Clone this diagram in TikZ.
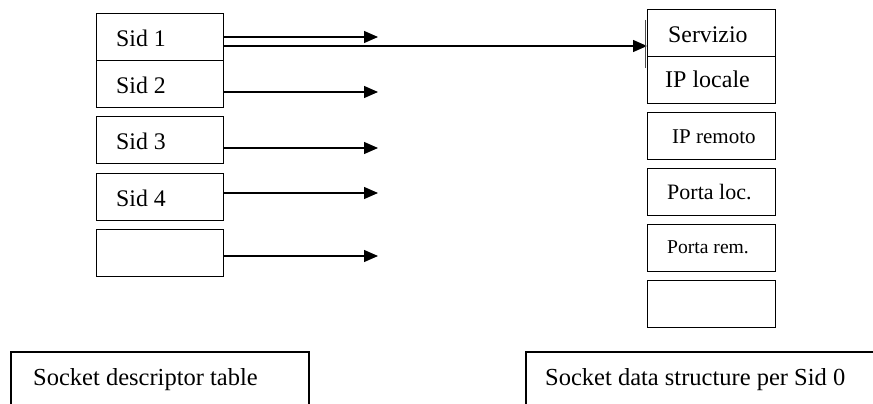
\documentclass[tikz,border=0pt]{standalone}
\usepackage{fontspec}
\setmainfont{Liberation Serif}
\usetikzlibrary{arrows.meta}
\begin{document}
\begin{tikzpicture}[x=1pt,y=-1pt,
  box/.style={draw=black,line width=1.4pt,rectangle,inner sep=0pt,anchor=north west},
  lbox/.style={box,minimum width=127pt,minimum height=47pt},
  rbox/.style={box,minimum width=128pt,minimum height=47pt},
  lab/.style={anchor=base west,inner sep=0pt,font=\fontsize{23.8}{28}\selectfont},
  arr/.style={line width=1.3pt,-{Triangle[length=14pt,width=12pt]}},
  open/.style={line width=1.4pt}]
\useasboundingbox (0,0) rectangle (873,404);
% left table
\node[lbox] (s1) at (96,13) {};
\node[lbox] (s2) at (96,60) {};
\node[lbox] (s3) at (96,116) {};
\node[lbox] (s4) at (96,173) {};
\node[lbox] (s5) at (96,229) {};
\node[lab] (s1t) at (116,47) {Sid 1};
\node[lab] (s2t) at (116,93) {Sid 2};
\node[lab] (s3t) at (116,149) {Sid 3};
\node[lab] (s4t) at (116,206) {Sid 4};
% right structure
\node[rbox] (r1) at (647,9) {};
\node[rbox] (r2) at (647,56) {};
\node[rbox] (r3) at (647,112) {};
\node[rbox] (r4) at (647,168) {};
\node[rbox] (r5) at (647,224) {};
\node[rbox] (r6) at (647,280) {};
\node[lab] (r1t) at (668,43) {Servizio};
\node[lab,font=\fontsize{24}{28}\selectfont] (r2t) at (665,88) {IP locale};
\node[lab,font=\fontsize{21}{25}\selectfont] (r3t) at (672,143) {IP remoto};
\node[lab,font=\fontsize{22}{26}\selectfont] (r4t) at (667,199) {Porta loc.};
\node[lab,font=\fontsize{19.6}{24}\selectfont] (r5t) at (667,253) {Porta rem.};
% arrow end points
\coordinate (e1) at (378,37);
\coordinate (e2) at (378,92);
\coordinate (e3) at (378,148);
\coordinate (e4) at (378,193);
\coordinate (e5) at (378,256);
\draw[arr] (s1.east |- e1) -- (e1);
\draw[arr] (s2.east |- e2) -- (e2);
\draw[arr] (s3.east |- e3) -- (e3);
\draw[arr] (s4.east |- e4) -- (e4);
\draw[arr] (s5.east |- e5) -- (e5);
\coordinate (m1) at (224,46);
\draw[arr] (m1) -- (r1.west |- m1);
% small extra edge left of Servizio
\coordinate (v1) at (645.5,20);
\coordinate (v2) at (645.5,68);
\draw[line width=0.8pt,black!70] (v1) -- (v2);
% bottom caption boxes (cut off at the bottom)
\coordinate (b1) at (11,404);
\coordinate (b2) at (11,352);
\coordinate (b3) at (309,352);
\coordinate (b4) at (309,404);
\draw[open] (b1) -- (b2) -- (b3) -- (b4);
\coordinate (c1) at (526,404);
\coordinate (c2) at (526,352);
\coordinate (c3) at (873,352);
\draw[open] (c1) -- (c2) -- (c3);
\node[lab,font=\fontsize{24.5}{29}\selectfont] (t1) at (33,385) {Socket descriptor table};
\node[lab,font=\fontsize{24.5}{29}\selectfont] (t2) at (545,385) {Socket data structure per Sid 0};
\end{tikzpicture}
\end{document}
